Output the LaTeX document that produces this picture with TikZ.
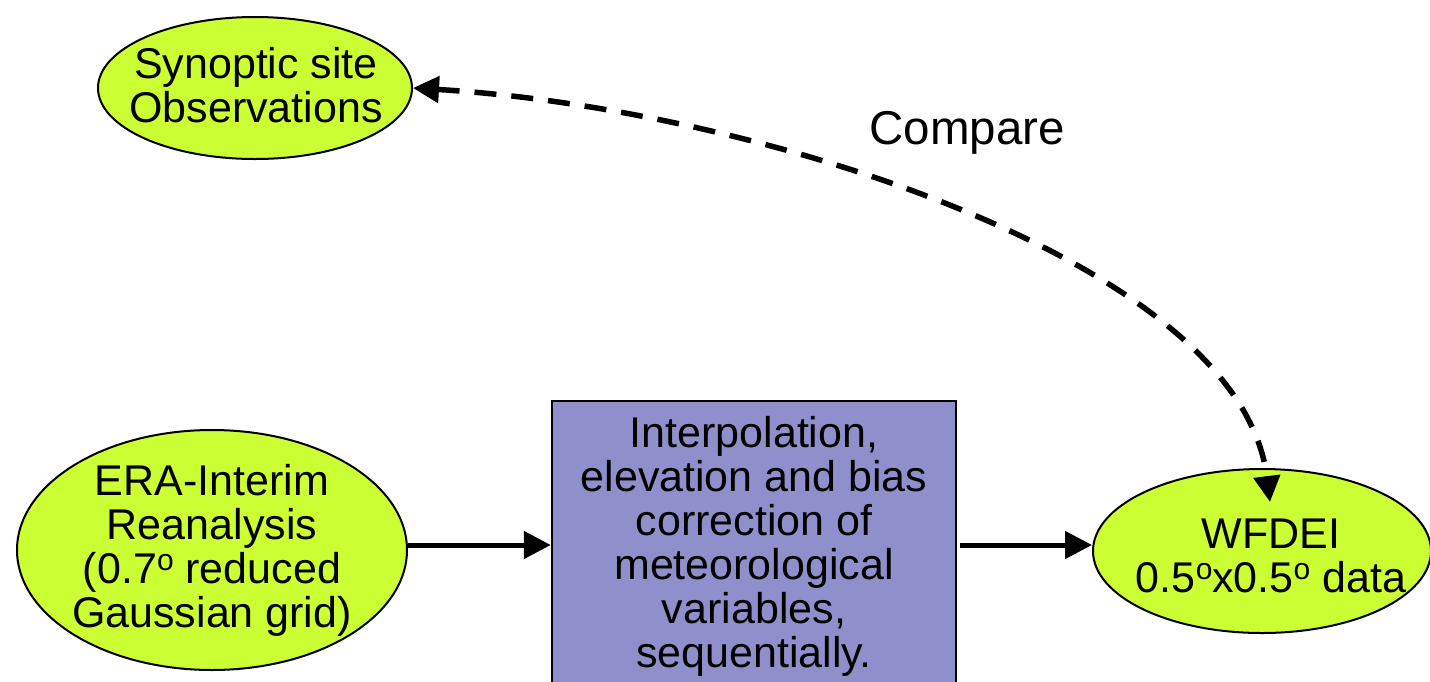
\documentclass[tikz,border=0pt]{standalone}
\usepackage{fontspec}
\setmainfont{Liberation Sans}
\usetikzlibrary{shapes.geometric,arrows.meta}
\definecolor{limefill}{RGB}{204,255,51}
\definecolor{boxfill}{RGB}{143,143,204}
\newcommand{\supo}{\raisebox{13pt}{\fontsize{30}{30}\selectfont o}}
\begin{document}
\begin{tikzpicture}[x=1pt,y=-1pt,
  blob/.style={ellipse, draw=black, line width=2pt, fill=limefill, inner sep=0pt},
  lbl/.style={font=\fontsize{43}{44}\selectfont, align=center, inner sep=0pt},
  proc/.style={rectangle, draw=black, line width=2.5pt, fill=boxfill, inner sep=0pt},
  flow/.style={line width=5pt, -{Triangle[length=27pt,width=27pt]}},
  cmparrow/.style={line width=5.5pt, dash pattern=on 22pt off 15pt,
    {Triangle[length=26pt,width=26pt]}-{Triangle[length=26pt,width=26pt]}}
]
\useasboundingbox (0,0) rectangle (1430,681);
\node[blob, minimum width=314pt, minimum height=142pt] (syn) at (255,88) {};
\node[lbl] (syntext) at (256,85) {Synoptic site\\Observations};
\node[blob, minimum width=390pt, minimum height=240pt] (era) at (212,550) {};
\node[lbl] (eratext) at (212,550) {ERA-Interim\\Reanalysis\\(0.7\supo{} reduced\\Gaussian grid)};
\node[proc, minimum width=404pt, minimum height=288pt] (box) at (754,545) {};
\node[lbl] (boxtext) at (754,546) {Interpolation,\\elevation and bias\\correction of\\meteorological\\variables,\\sequentially.};
\node[blob, minimum width=338pt, minimum height=164pt] (wf) at (1262,551) {};
\node[lbl] (wftext) at (1271,556) {WFDEI\\0.5\supo{}x0.5\supo{} data};
\node[lbl, font=\fontsize{47.5}{48}\selectfont] (cmp) at (967,133) {Compare};
\coordinate (wfin) at (1270,502);
\draw[flow] (era.east |- box.west) -- (box.west);
\draw[flow] ([xshift=3pt]box.east) -- (box.east -| wf.west);
\draw[cmparrow] (syn.east) .. controls (750,108) and (1240,260) .. (wfin);
\end{tikzpicture}
\end{document}
